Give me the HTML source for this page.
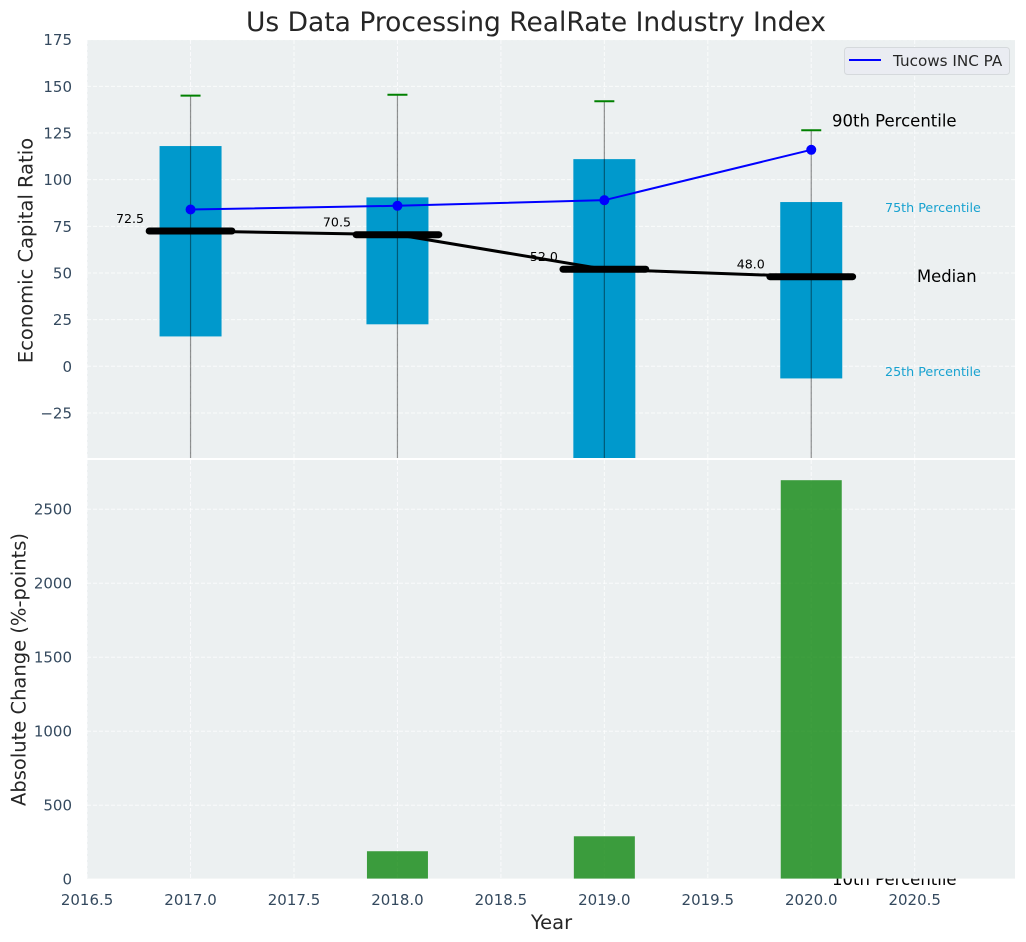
<!DOCTYPE html>
<html lang="en">
<head>
<meta charset="utf-8">
<title>Us Data Processing RealRate Industry Index</title>
<style>
html,body{margin:0;padding:0;background:#fff;}
svg{display:block;font-family:"DejaVu Sans","Liberation Sans",sans-serif;}
</style>
</head>
<body>
<svg id="chart" xmlns="http://www.w3.org/2000/svg" width="1026" height="942" viewBox="0 0 1026 942"></svg>
<script>
const years = [2017, 2018, 2019, 2020];
const p90 = [145, 145.5, 142, 126.5];
const p75 = [118, 90.5, 111, 88];
const medians = [72.5, 70.5, 52, 48];
const p25 = [16, 22.5, -52, -6.5];
const p10 = [-60, -60, -60, -60];
const company = [84, 86, 89, 116];
const absoluteChange = [0, 189, 290, 2696];
const medianLabels = ['72.5', '70.5', '52.0', '48.0'];
const xTicks = [2016.5, 2017, 2017.5, 2018, 2018.5, 2019, 2019.5, 2020, 2020.5];
const xTickLabels = ['2016.5', '2017.0', '2017.5', '2018.0', '2018.5', '2019.0', '2019.5', '2020.0', '2020.5'];
const yTopTicks = [175, 150, 125, 100, 75, 50, 25, 0, -25];
const yTopLabels = ['175', '150', '125', '100', '75', '50', '25', '0', '\u221225'];
const yBottomTicks = [0, 500, 1000, 1500, 2000, 2500];
const yBottomLabels = ['0', '500', '1000', '1500', '2000', '2500'];

const svg = document.getElementById('chart');
const NS = 'http://www.w3.org/2000/svg';
const left = 87, right = 1015;
const topY0 = 40, topY1 = 458, botY0 = 460, botY1 = 878.6;
const x = v => 87.1 + (v - 2016.5) * 206.9;
const yTop = v => 366.3 - v * 1.8665;
const yBot = v => 879.2 - v * 0.148;

function el(tag, attrs, parent) {
  const n = document.createElementNS(NS, tag);
  for (const k in attrs) n.setAttribute(k, attrs[k]);
  (parent || svg).appendChild(n);
  return n;
}
function txt(content, attrs, parent) {
  const n = el('text', attrs, parent);
  n.textContent = content;
  return n;
}

const defs = el('defs', {});
const clip = el('clipPath', {id: 'top-clip'}, defs);
el('rect', {x: left, y: topY0, width: right - left, height: topY1 - topY0}, clip);

/* top panel */
const topPanel = el('rect', {x: left, y: topY0, width: right - left, height: topY1 - topY0, fill: '#ecf0f1'});



const GRID = {stroke: '#ffffff', 'stroke-width': 1, 'stroke-dasharray': '4 2', 'stroke-opacity': 0.75};
const TICK_SIZE = 15;

yTopTicks.forEach((t, i) => {
  const g = el('line', Object.assign({x1: left, x2: right, y1: yTop(t), y2: yTop(t)}, GRID));
  
  
  const l = txt(yTopLabels[i], {x: 72, y: yTop(t) + 5.5, 'text-anchor': 'end', 'font-size': TICK_SIZE, fill: '#34495e'});
  
  
});
xTicks.forEach(t => {
  const g = el('line', Object.assign({x1: x(t), x2: x(t), y1: topY0, y2: topY1}, GRID));
  
  
});

const topMarks = el('g', {'clip-path': 'url(#top-clip)'});



years.forEach((yr, i) => {
  const b = el('rect', {x: x(yr) - 31, y: yTop(p75[i]), width: 62, height: yTop(p25[i]) - yTop(p75[i]), fill: '#0099cc'}, topMarks);
  
  
});
years.forEach((yr, i) => {
  const w = el('line', {x1: x(yr), x2: x(yr), y1: yTop(p90[i]), y2: yTop(p10[i]), stroke: '#000', 'stroke-opacity': 0.42, 'stroke-width': 1.2}, topMarks);
  
  
  const c = el('line', {x1: x(yr) - 10, x2: x(yr) + 10, y1: yTop(p90[i]), y2: yTop(p90[i]), stroke: '#008000', 'stroke-width': 2}, topMarks);
  
  
});

years.forEach((yr, i) => {
  const l = txt(medianLabels[i], {x: x(yr) - 60.5, y: yTop(medians[i]) - 8, 'text-anchor': 'middle', 'font-size': 12.6, fill: '#000'});
  
  
});

const medianLine = el('polyline', {points: years.map((yr, i) => x(yr) + ',' + yTop(medians[i])).join(' '), fill: 'none', stroke: '#000', 'stroke-width': 3}, topMarks);


years.forEach((yr, i) => {
  const m = el('line', {x1: x(yr - 0.2), x2: x(yr + 0.2), y1: yTop(medians[i]), y2: yTop(medians[i]), stroke: '#000', 'stroke-width': 7, 'stroke-linecap': 'round'}, topMarks);
  
  
});

const companyLine = el('polyline', {points: years.map((yr, i) => x(yr) + ',' + yTop(company[i])).join(' '), fill: 'none', stroke: '#0000ff', 'stroke-width': 2}, topMarks);


years.forEach((yr, i) => {
  const p = el('circle', {cx: x(yr), cy: yTop(company[i]), r: 5, fill: '#0000ff'}, topMarks);
  
  
});

/* percentile annotations */
const ann90 = txt('90th Percentile', {x: 832, y: 126.5, 'font-size': 16.5, fill: '#000'});


const ann75 = txt('75th Percentile', {x: 885, y: 212, 'font-size': 12.7, fill: '#0099cc', 'fill-opacity': 0.9});


const annMed = txt('Median', {x: 917, y: 282, 'font-size': 16.4, fill: '#000'});


const ann25 = txt('25th Percentile', {x: 885, y: 376, 'font-size': 12.7, fill: '#0099cc', 'fill-opacity': 0.9});


const ann10 = txt('10th Percentile', {x: 832, y: 885, 'font-size': 16.5, fill: '#000'});



/* legend */
const legend = el('g', {});


const legendBox = el('rect', {x: 844.5, y: 47.5, width: 165, height: 27, rx: 3, fill: '#eaecf2', stroke: '#d5d9dc', 'stroke-width': 1}, legend);


const legendLine = el('line', {x1: 849, x2: 881, y1: 60, y2: 60, stroke: '#0000ff', 'stroke-width': 2}, legend);


const legendText = txt('Tucows INC PA', {x: 893, y: 66, 'font-size': 15.2, fill: '#262626'}, legend);



/* bottom panel */
const botPanel = el('rect', {x: left, y: botY0, width: right - left, height: botY1 - botY0, fill: '#ecf0f1'});



yBottomTicks.forEach((t, i) => {
  if (t > 0) {
    const g = el('line', Object.assign({x1: left, x2: right, y1: yBot(t), y2: yBot(t)}, GRID));
    
    
  }
  const l = txt(yBottomLabels[i], {x: 72, y: yBot(t) + 5.5, 'text-anchor': 'end', 'font-size': TICK_SIZE, fill: '#34495e'});
  
  
});
xTicks.forEach((t, i) => {
  const g = el('line', Object.assign({x1: x(t), x2: x(t), y1: botY0, y2: botY1}, GRID));
  
  
  const l = txt(xTickLabels[i], {x: x(t), y: 905, 'text-anchor': 'middle', 'font-size': TICK_SIZE, fill: '#34495e'});
  
  
});

years.forEach((yr, i) => {
  const b = el('rect', {x: x(yr) - 30.5, y: yBot(absoluteChange[i]), width: 61, height: Math.max(0, botY1 - yBot(absoluteChange[i])), fill: '#008000', 'fill-opacity': 0.75});
  
  
});

/* titles */
const title = txt('Us Data Processing RealRate Industry Index', {x: 536, y: 31, 'text-anchor': 'middle', 'font-size': 26.5, fill: '#262626'});


const yTitleTop = txt('Economic Capital Ratio', {x: 0, y: 0, transform: 'translate(32.5,250.5) rotate(-90)', 'text-anchor': 'middle', 'font-size': 19.5, fill: '#262626'});


const yTitleBot = txt('Absolute Change (%-points)', {x: 0, y: 0, transform: 'translate(25.5,669.5) rotate(-90)', 'text-anchor': 'middle', 'font-size': 19.5, fill: '#262626'});


const xTitle = txt('Year', {x: 551.5, y: 929, 'text-anchor': 'middle', 'font-size': 19.5, fill: '#262626'});


</script>
</body>
</html>
